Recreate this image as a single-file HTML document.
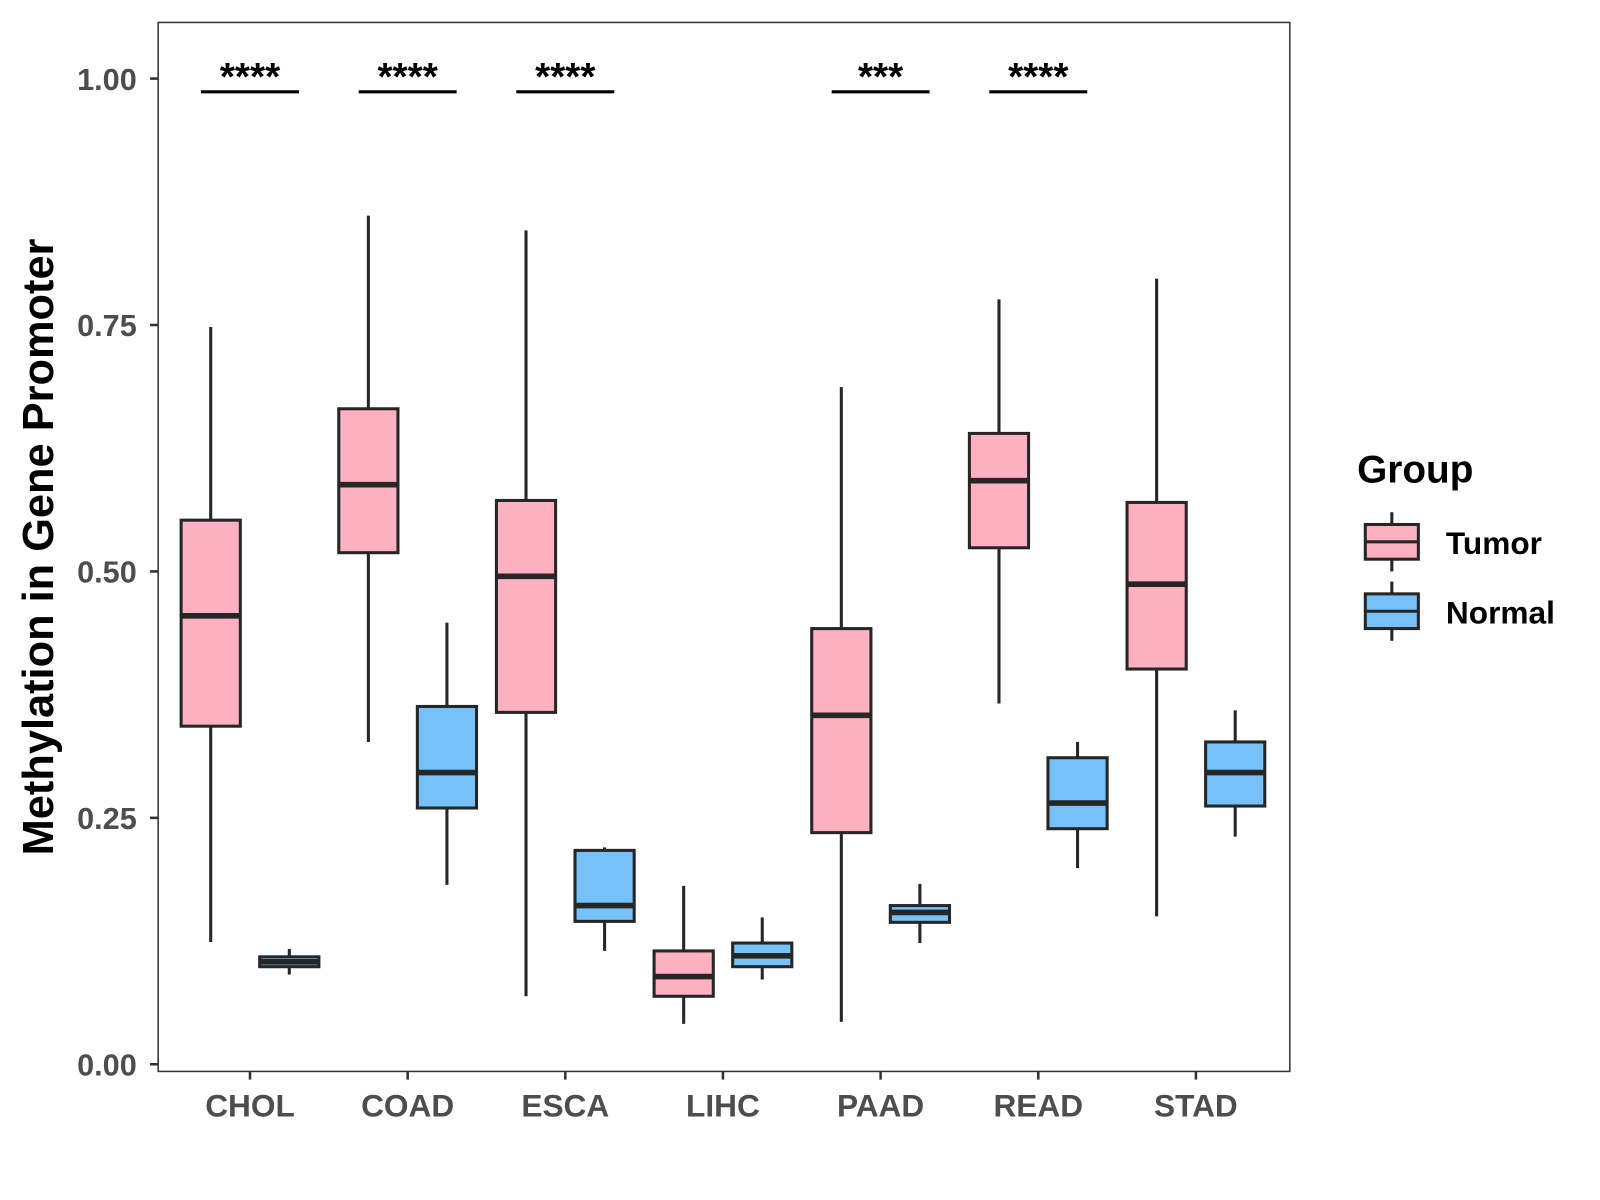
<!DOCTYPE html>
<html><head><meta charset="utf-8"><style>
html,body{margin:0;padding:0;background:#fff;}
svg{display:block;}
</style></head><body>
<svg id="chart" width="1600" height="1200" viewBox="0 0 1568 1176" preserveAspectRatio="none" xmlns="http://www.w3.org/2000/svg" font-family="'Liberation Sans', sans-serif">
<rect width="1568" height="1176" fill="#fff"/>
<g id="plot"></g>
<text transform="translate(52,536) rotate(-90)" text-anchor="middle" font-size="42.5" font-weight="bold" fill="#000">Methylation in Gene Promoter</text>
<g>
<text x="1330" y="473" font-size="38" font-weight="bold">Group</text>
<g>
<line x1="1364" y1="502" x2="1364" y2="560" stroke="#262626" stroke-width="3"/>
<rect x="1338" y="514" width="52" height="34" fill="#FFB0C1" stroke="#262626" stroke-width="3"/>
<line x1="1338" y1="531" x2="1390" y2="531" stroke="#262626" stroke-width="3"/>
<text x="1417" y="543" font-size="31" font-weight="bold">Tumor</text>
</g>
<g>
<line x1="1364" y1="570" x2="1364" y2="628" stroke="#262626" stroke-width="3"/>
<rect x="1338" y="582" width="52" height="34" fill="#75C1F8" stroke="#262626" stroke-width="3"/>
<line x1="1338" y1="599" x2="1390" y2="599" stroke="#262626" stroke-width="3"/>
<text x="1417" y="611" font-size="31" font-weight="bold">Normal</text>
</g>
</g>
</svg>
<script>
const categories = ["CHOL","COAD","ESCA","LIHC","PAAD","READ","STAD"];
// [whiskerLow, Q1, median, Q3, whiskerHigh]
const tumorStats = [
 [0.124,0.343,0.455,0.552,0.748],
 [0.327,0.519,0.588,0.665,0.861],
 [0.069,0.357,0.495,0.572,0.846],
 [0.041,0.069,0.089,0.115,0.181],
 [0.043,0.235,0.354,0.442,0.687],
 [0.366,0.524,0.592,0.640,0.776],
 [0.150,0.401,0.487,0.570,0.797]
];
const normalStats = [
 [0.091,0.099,0.104,0.109,0.117],
 [0.182,0.260,0.296,0.363,0.448],
 [0.115,0.145,0.161,0.217,0.220],
 [0.086,0.099,0.110,0.123,0.149],
 [0.123,0.144,0.154,0.161,0.183],
 [0.199,0.239,0.265,0.311,0.327],
 [0.231,0.262,0.296,0.327,0.359]
];
const significance = ["****","****","****","","***","****",""];
const yTicks = [0, 0.25, 0.5, 0.75, 1.0];
const yTickLabels = ["0.00","0.25","0.50","0.75","1.00"];

const NS = "http://www.w3.org/2000/svg";
const P = {l:155, r:1264, t:22, b:1050};
const y = v => 1043 - v * 966;
const x = i => 245 + i * 154.5;
const g = document.getElementById('plot');
function mk(tag, attrs, parent){
  const e = document.createElementNS(NS, tag);
  for (const k in attrs) e.setAttribute(k, attrs[k]);
  (parent||g).appendChild(e);
  return e;
}
const panel = mk('rect',{x:P.l,y:P.t,width:P.r-P.l,height:P.b-P.t,fill:'none',stroke:'#333',"stroke-width":1.5});


yTicks.forEach((v,i)=>{
  const t = mk('line',{x1:P.l-8,x2:P.l,y1:y(v),y2:y(v),stroke:'#333',"stroke-width":2.5});
  
  
  const lb = mk('text',{x:P.l-21,y:y(v)+11,"text-anchor":"end","font-size":30,"font-weight":"bold",fill:'#4d4d4d'});
  lb.textContent = yTickLabels[i];
  
  
});
function box(s, cx, fill, name){
  const grp = mk('g',{});
  
  
  const w = 58;
  mk('line',{x1:cx,x2:cx,y1:y(s[0]),y2:y(s[4]),stroke:'#262626',"stroke-width":3},grp);
  mk('rect',{x:cx-w/2,y:y(s[3]),width:w,height:Math.max(y(s[1])-y(s[3]),0.5),fill:fill,stroke:'#262626',"stroke-width":3},grp);
  mk('line',{x1:cx-w/2,x2:cx+w/2,y1:y(s[2]),y2:y(s[2]),stroke:'#262626',"stroke-width":5.5},grp);
}
categories.forEach((c,i)=>{
  const cx = x(i);
  box(tumorStats[i], cx-38.5, '#FFB0C1', 'box-tumor-'+c.toLowerCase());
  box(normalStats[i], cx+38.5, '#75C1F8', 'box-normal-'+c.toLowerCase());
  const t = mk('line',{x1:cx,x2:cx,y1:P.b,y2:P.b+8,stroke:'#333',"stroke-width":2.5});
  
  
  const lb = mk('text',{x:cx,y:P.b+44,"text-anchor":"middle","font-size":31,"font-weight":"bold",fill:'#4d4d4d'});
  lb.textContent = c;
  
  
  if (significance[i]) {
    const sl = mk('line',{x1:cx-48,x2:cx+48,y1:90,y2:90,stroke:'#000',"stroke-width":3});
    
    
    const st = mk('text',{x:cx,y:88,"text-anchor":"middle","font-size":38,"font-weight":"bold",fill:'#000'});
    st.textContent = significance[i];
    
    
  }
});
</script>
</body></html>
